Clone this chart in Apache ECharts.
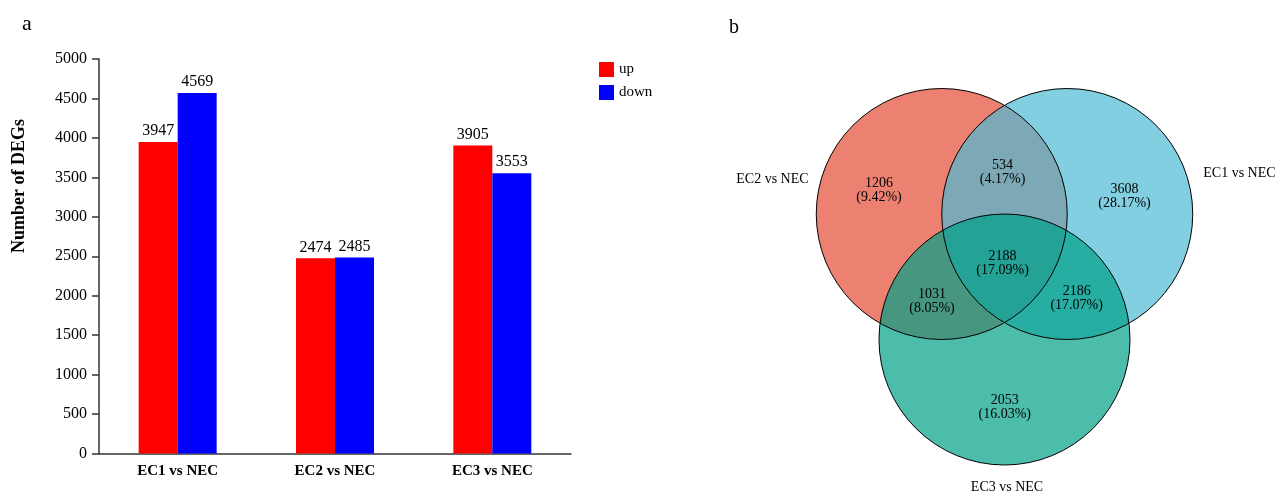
<!DOCTYPE html>
<html>
<head>
<meta charset="utf-8">
<script src="https://cdn.jsdelivr.net/npm/echarts@6.0.0/dist/echarts.min.js"></script>
<style>
  html, body { margin: 0; padding: 0; background: #fff; }
  #chart { width: 1276px; height: 493px; }
</style>
</head>
<body>
<div id="chart"></div>
<script>
  // bar chart data (panel a)
  const categories = ['EC1 vs NEC', 'EC2 vs NEC', 'EC3 vs NEC'];
  const upValues = [3947, 2474, 3905];
  const downValues = [4569, 2485, 3553];
  const yMax = 5000;
  const yStep = 500;

  // venn data (panel b)
  const vennSets = ['EC2 vs NEC', 'EC1 vs NEC', 'EC3 vs NEC'];
  const vennRegions = ['EC2 only', 'EC1&EC2', 'EC1 only', 'EC1&EC2&EC3', 'EC2&EC3', 'EC1&EC3', 'EC3 only'];
  const vennCounts = [1206, 534, 3608, 2188, 1031, 2186, 2053];
  const vennPercents = [9.42, 4.17, 28.17, 17.09, 8.05, 17.07, 16.03];

  // venn layout, in circle-radius units
  const circleCenters = [[-0.5, 0], [0.5, 0], [0, -1]];
  const circleColors = ['rgba(230,75,53,0.7)', 'rgba(77,187,213,0.7)', 'rgba(0,160,135,0.7)'];
  const regionSpots = [[-1.0, 0.185], [-0.015, 0.333], [0.956, 0.137], [-0.015, -0.392], [-0.578, -0.695], [0.575, -0.671], [0.002, -1.537]];
  const setLabelSpots = [[-1.849, 0.277], [1.872, 0.321], [0.02, -2.179]];

  const serif = '"Liberation Serif", "Times New Roman", serif';

  const chart = echarts.init(document.getElementById('chart'));

  function renderCircle(params, api, outline) {
    const c = api.coord([api.value(0), api.value(1)]);
    const s = api.size([1, 1]);
    return {
      type: 'circle',
      shape: { cx: c[0], cy: c[1], r: s[0] },
      style: outline
        ? { fill: 'none', stroke: '#000', lineWidth: 1 }
        : { fill: circleColors[params.dataIndex], stroke: 'none' }
    };
  }

  function renderText(params, api, size) {
    const c = api.coord([api.value(0), api.value(1)]);
    return {
      type: 'text',
      x: c[0],
      y: c[1],
      style: {
        text: api.value(2),
        fill: '#000',
        fontSize: size,
        fontFamily: serif,
        align: 'center',
        verticalAlign: 'middle',
        lineHeight: 14
      }
    };
  }

  const regionData = vennRegions.map((r, i) => [
    regionSpots[i][0], regionSpots[i][1],
    vennCounts[i] + '\n(' + vennPercents[i].toFixed(2) + '%)'
  ]);
  const setData = vennSets.map((s, i) => [setLabelSpots[i][0], setLabelSpots[i][1], s]);

  chart.setOption({
    backgroundColor: '#fff',
    animation: false,
    textStyle: { fontFamily: serif },
    graphic: [
      { type: 'text', x: 27, y: 24, style: { text: 'a', fontSize: 22, fontFamily: serif, fill: '#000', align: 'center', verticalAlign: 'middle' } },
      { type: 'text', x: 734, y: 28, style: { text: 'b', fontSize: 20, fontFamily: serif, fill: '#000', align: 'center', verticalAlign: 'middle' } },
      {
        type: 'text', x: 19, y: 186, rotation: Math.PI / 2,
        style: { text: 'Number of DEGs', fontSize: 18, fontWeight: 'bold', fontFamily: serif, fill: '#000', align: 'center', verticalAlign: 'middle' }
      }
    ],
    legend: {
      data: ['up', 'down'],
      orient: 'vertical',
      left: 599,
      top: 62,
      padding: 0,
      itemWidth: 15,
      itemHeight: 15,
      itemGap: 8,
      icon: 'rect',
      textStyle: { fontSize: 15, fontFamily: serif, color: '#000' }
    },
    grid: [
      { left: 99, top: 59, width: 472, height: 394.5 },
      { left: 753.5, top: 50.85, width: 502, height: 439.25 }
    ],
    xAxis: [
      {
        type: 'category',
        gridIndex: 0,
        data: categories,
        axisLine: { lineStyle: { color: '#333', width: 1.5 } },
        axisTick: { alignWithLabel: true, length: 6, lineStyle: { color: '#333', width: 1.5 } },
        axisLabel: { color: '#000', fontSize: 15, fontWeight: 'bold', fontFamily: serif, margin: 10 }
      },
      { type: 'value', gridIndex: 1, min: -2, max: 2, show: false }
    ],
    yAxis: [
      {
        type: 'value',
        gridIndex: 0,
        min: 0,
        max: yMax,
        interval: yStep,
        axisLine: { show: true, lineStyle: { color: '#333', width: 1.5 } },
        axisTick: { show: true, length: 7, lineStyle: { color: '#333', width: 1.5 } },
        axisLabel: { color: '#000', fontSize: 16, fontFamily: serif, margin: 12, formatter: v => String(v) },
        splitLine: { show: false }
      },
      { type: 'value', gridIndex: 1, min: -2.2, max: 1.3, show: false }
    ],
    series: [
      {
        name: 'up',
        type: 'bar',
        data: upValues,
        barWidth: 39,
        barGap: 0,
        itemStyle: { color: '#ff0000' },
        label: { show: true, position: 'top', distance: 3, color: '#000', fontSize: 16, fontFamily: serif }
      },
      {
        name: 'down',
        type: 'bar',
        data: downValues,
        barWidth: 39,
        barGap: 0,
        itemStyle: { color: '#0000ff' },
        label: { show: true, position: 'top', distance: 3, color: '#000', fontSize: 16, fontFamily: serif }
      },
      {
        type: 'custom',
        xAxisIndex: 1,
        yAxisIndex: 1,
        silent: true,
        data: circleCenters,
        renderItem: (p, api) => renderCircle(p, api, false),
        z: 2
      },
      {
        type: 'custom',
        xAxisIndex: 1,
        yAxisIndex: 1,
        silent: true,
        data: circleCenters,
        renderItem: (p, api) => renderCircle(p, api, true),
        z: 3
      },
      {
        type: 'custom',
        xAxisIndex: 1,
        yAxisIndex: 1,
        silent: true,
        data: regionData,
        dimensions: ['x', 'y', { name: 'label', type: 'ordinal' }],
        renderItem: (p, api) => renderText(p, api, 14),
        z: 4
      },
      {
        type: 'custom',
        xAxisIndex: 1,
        yAxisIndex: 1,
        silent: true,
        data: setData,
        dimensions: ['x', 'y', { name: 'label', type: 'ordinal' }],
        renderItem: (p, api) => renderText(p, api, 14),
        z: 4
      }
    ]
  });
</script>
</body>
</html>
